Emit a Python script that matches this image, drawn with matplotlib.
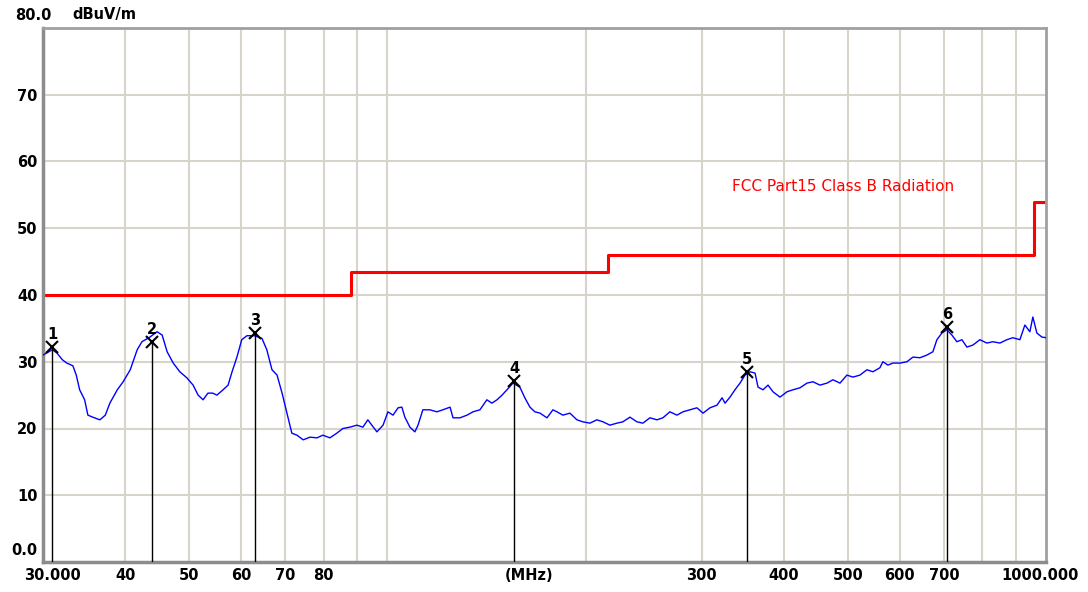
#! /usr/bin/env python3
import numpy as np
from matplotlib import pyplot as plt
from matplotlib.transforms import ScaledTranslation

plt.rcParams.update({'font.family': 'DejaVu Sans'})

# measured trace (MHz, dBuV/m)
freq = [30.0, 31.0, 31.5, 32.1, 32.6, 33.3, 33.7, 34.1, 34.7, 35.1, 35.7, 36.6,
        37.3, 37.9, 38.9, 39.7, 40.7, 41.7, 42.4, 43.6, 44.7, 45.5, 46.3, 47.3,
        48.4, 49.6, 50.7, 51.6, 52.5, 53.4, 54.3, 55.1, 56.3, 57.3, 58.1, 59.1,
        60.1, 61.2, 62.9, 64.5, 65.6, 66.8, 68.0, 69.2, 70.4, 71.6, 72.9, 74.5,
        76.3, 78.2, 79.8, 81.8, 83.8, 85.6, 87.7, 89.9, 91.8, 93.4, 96.4, 98.5,
        100.2, 102.0, 103.8, 105.2, 106.3, 108.2, 110.1, 111.3, 113.2, 116.0,
        118.9, 121.4, 124.5, 125.8, 128.9, 132.1, 134.9, 138.2, 141.6, 144.1,
        146.7, 149.3, 151.9, 155.1, 158.9, 161.7, 164.6, 167.5, 170.5, 174.7,
        178.4, 180.9, 184.7, 189.3, 194.0, 198.1, 203.0, 208.0, 212.5, 217.7,
        223.1, 227.8, 233.5, 239.3, 244.3, 250.4, 256.6, 262.0, 268.5, 275.2,
        281.0, 288.0, 295.1, 301.5, 308.9, 316.6, 322.2, 325.6, 331.3, 337.1,
        343.1, 349.1, 355.3, 361.6, 365.4, 371.8, 378.4, 385.0, 394.6, 404.3,
        412.9, 423.1, 433.6, 442.8, 453.7, 465.0, 474.8, 486.6, 498.6, 509.2,
        521.8, 534.7, 546.0, 559.5, 565.4, 575.4, 585.6, 600.1, 614.9, 628.0,
        643.5, 659.4, 673.4, 682.9, 694.9, 707.2, 719.6, 732.3, 745.3, 758.4,
        774.5, 793.6, 813.3, 830.5, 851.1, 872.1, 890.6, 912.7, 928.8, 945.2,
        955.1, 968.6, 985.7, 1000.0]
level = [31.0, 31.8, 31.3, 30.3, 29.8, 29.4, 28.0, 25.8, 24.3, 22.0, 21.7, 21.3,
         22.0, 23.8, 25.8, 27.0, 28.8, 31.8, 33.0, 33.7, 34.5, 34.0, 31.5, 29.8,
         28.5, 27.6, 26.5, 25.0, 24.3, 25.3, 25.3, 25.0, 25.8, 26.5, 28.5, 30.7,
         33.3, 33.9, 33.9, 33.5, 31.8, 28.8, 28.0, 25.3, 22.3, 19.3, 19.0, 18.3,
         18.7, 18.6, 19.0, 18.6, 19.3, 20.0, 20.2, 20.5, 20.2, 21.3, 19.5, 20.5,
         22.5, 22.0, 23.1, 23.2, 21.7, 20.2, 19.5, 20.5, 22.8, 22.8,
         22.5, 22.8, 23.2, 21.6, 21.6, 22.0, 22.5, 22.8, 24.3, 23.8,
         24.3, 25.0, 25.8, 26.8, 26.2, 24.6, 23.2, 22.5, 22.3, 21.6,
         22.8, 22.5, 22.0, 22.3, 21.3, 21.0, 20.8, 21.3, 21.0, 20.5,
         20.8, 21.0, 21.7, 21.0, 20.8, 21.6, 21.3, 21.6, 22.5, 22.0,
         22.5, 22.8, 23.1, 22.3, 23.1, 23.5, 24.6, 23.8, 24.7, 25.8,
         26.8, 28.0, 28.5, 28.3, 26.2, 25.8, 26.5, 25.5, 24.7, 25.5,
         25.8, 26.1, 26.8, 27.0, 26.5, 26.8, 27.3, 26.8, 28.0, 27.7,
         28.0, 28.8, 28.5, 29.1, 30.0, 29.5, 29.8, 29.8, 30.0, 30.7,
         30.6, 31.0, 31.5, 33.3, 34.3, 34.8, 34.0, 33.0, 33.3, 32.2,
         32.5, 33.3, 32.8, 33.0, 32.8, 33.3, 33.6, 33.3, 35.5, 34.5,
         36.7, 34.3, 33.7, 33.6]

# FCC Part 15 class B limit
limit_freq = [30, 88, 216, 960, 1000]
limit_level = [40, 43.5, 46, 54, 54]

# peak markers
mark_freq = [31.0, 43.9, 62.9, 155.7, 351.7, 707.6]
mark_level = [32.2, 33.0, 34.3, 27.1, 28.5, 35.2]
mark_names = ['1', '2', '3', '4', '5', '6']

xtick_pos = [30, 40, 50, 60, 70, 80, 164, 300, 400, 500, 600, 700, 1000]
xtick_lab = ['30.000', '40', '50', '60', '70', '80', '(MHz)',
             '300', '400', '500', '600', '700', '1000.000']
xgrid = [40, 50, 60, 70, 80, 90, 100, 200, 300, 400, 500, 600, 700, 800, 900]
ytick_pos = [0, 10, 20, 30, 40, 50, 60, 70]
ytick_lab = ['0.0', '10', '20', '30', '40', '50', '60', '70']

fig = plt.figure(figsize=(10.88, 5.92), dpi=100)
ax = fig.add_axes([43/1088, 1 - 562/592, 1003/1088, 534/592])

for f in xgrid:
    ax.axvline(f, color='#d8d4cc', lw=1.5, zorder=0)
for v in range(10, 80, 10):
    ax.axhline(v, color='#d8d4cc', lw=1.5, zorder=0)

ax.plot(freq, level, color='#0000ff', lw=1.0, zorder=3)
ax.plot(limit_freq, limit_level, color='#ff0000', lw=2.2,
        drawstyle='steps-post', zorder=2)
ax.text(334, 56.3, 'FCC Part15 Class B Radiation', color='#ff0000',
        fontsize=11, va='center', ha='left')

for f, v, n in zip(mark_freq, mark_level, mark_names):
    ax.plot([f, f], [0, v], color='black', lw=1.0, zorder=4)
    ax.plot(f, v, 'x', color='black', ms=8, mew=1.5, zorder=5)
    ax.annotate(n, (f, v), xytext=(0, 9), textcoords='offset points',
                ha='center', va='center', fontsize=10.5, fontweight='bold')

ax.set_xscale('log')
ax.set_xlim(30, 1000)
ax.set_ylim(0, 80)
ax.set_xticks(xtick_pos, xtick_lab)
ax.xaxis.set_minor_locator(plt.NullLocator())
ax.set_yticks(ytick_pos, ytick_lab)
ax.tick_params(length=0, labelsize=10.5, pad=4)
for lbl in ax.get_xticklabels() + ax.get_yticklabels():
    lbl.set_fontweight('bold')
xl = ax.get_xticklabels()
xl[0].set_transform(xl[0].get_transform() + ScaledTranslation(0.09, 0, fig.dpi_scale_trans))
xl[-1].set_transform(xl[-1].get_transform() + ScaledTranslation(-0.06, 0, fig.dpi_scale_trans))
yl = ax.get_yticklabels()
yl[0].set_transform(yl[0].get_transform() + ScaledTranslation(0, 0.13, fig.dpi_scale_trans))

for side in ['left', 'bottom']:
    ax.spines[side].set_color('#8c8c8c')
    ax.spines[side].set_linewidth(2.5)
for side in ['top', 'right']:
    ax.spines[side].set_color('#a0a0a0')
    ax.spines[side].set_linewidth(2.0)

fig.text(15/1088, 1 - 15/592, '80.0', fontsize=10.5, fontweight='bold', va='center')
fig.text(72/1088, 1 - 15/592, 'dBuV/m', fontsize=10.5, fontweight='bold', va='center')

plt.savefig('out.png', dpi=100)
